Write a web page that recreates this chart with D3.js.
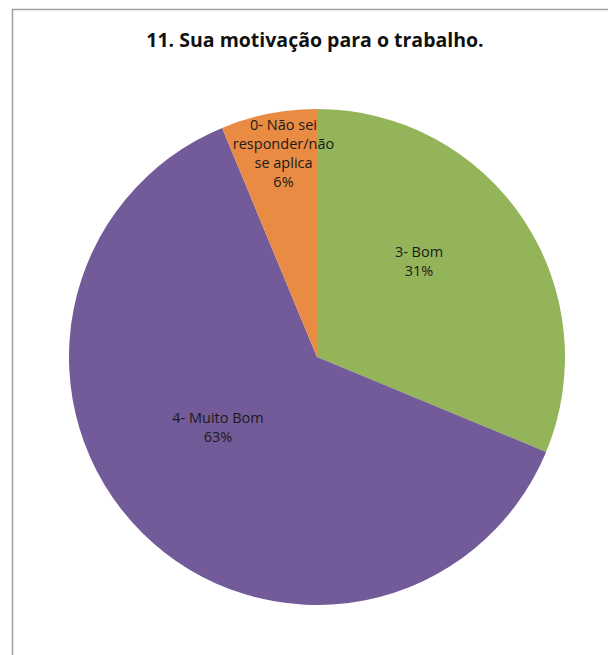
<!DOCTYPE html>
<html><head><meta charset="utf-8">
<script src="https://cdn.jsdelivr.net/npm/d3@7/dist/d3.min.js"></script>
<style>body{margin:0;background:#fff}svg{display:block}</style>
</head><body><svg id="c" width="608" height="655"></svg>
<script>
const categories = ["3- Bom", "4- Muito Bom", "0- Não sei responder/não se aplica"];
const values = [5, 10, 1];
const percentLabels = ["31%", "63%", "6%"];
const labelLines = [["3- Bom"], ["4- Muito Bom"], ["0- Não sei", "responder/não", "se aplica"]];
const colors = ["#94b45a", "#735a98", "#ea8b43"];
const title = "11. Sua motivação para o trabalho.";

const svg = d3.select("#c");
svg.append("rect").attr("x", 12.5).attr("y", 9.5).attr("width", 620).attr("height", 660)
  .attr("fill", "#fff").attr("stroke", "#a0a0a0").attr("stroke-width", 1.5);
svg.append("text").attr("x", 315).attr("y", 47).attr("text-anchor", "middle")
  .attr("font-family", "Open Sans, Liberation Sans, sans-serif").attr("font-weight", "bold")
  .attr("font-size", 19.5).attr("fill", "#111").text(title);

const cx = 317, cy = 357, r = 248;
const g = svg.append("g").attr("transform", `translate(${cx},${cy})`);
const pie = d3.pie().sort(null).value(d => d)(values);
const arc = d3.arc().innerRadius(0).outerRadius(r);
g.selectAll("path").data(pie).join("path").attr("d", arc).attr("fill", (d, i) => colors[i]);

const labelPos = [[102, -100], [-99, 66], [-33.5, -227]];
const lh = 19;
pie.forEach((d, i) => {
  const lines = labelLines[i].concat([percentLabels[i]]);
  const t = g.append("text").attr("text-anchor", "middle")
    .attr("font-family", "Open Sans, Liberation Sans, sans-serif").attr("font-size", 14.5)
    .attr("fill", "#1a1a1a");
  lines.forEach((l, j) => {
    t.append("tspan").attr("x", labelPos[i][0]).attr("y", labelPos[i][1] + j * lh).text(l);
  });
});
</script></body></html>
